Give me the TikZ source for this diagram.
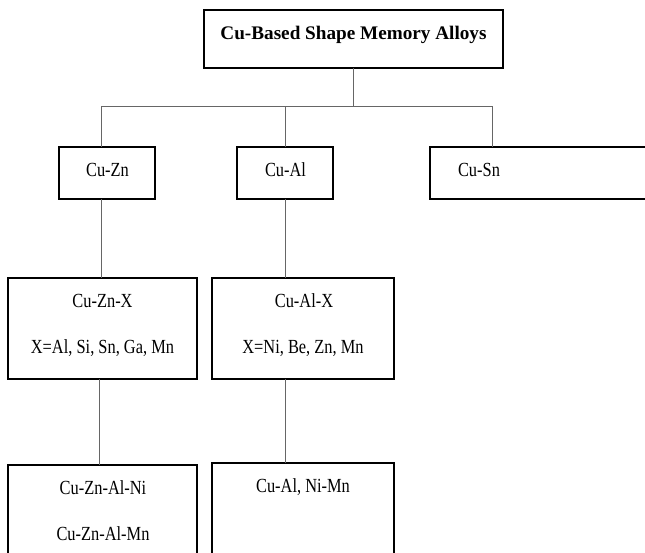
\documentclass[tikz,border=0pt]{standalone}
\usepackage{fontspec}
\setmainfont{Liberation Serif}
\newfontfamily\condfont[FakeStretch=0.82]{Liberation Serif}
\begin{document}
\begin{tikzpicture}[x=1pt,y=-1pt,
  box/.style={draw=black, line width=1.6pt, inner sep=0pt, outer sep=0pt, anchor=north west},
  conn/.style={draw=black!60, line width=0.9pt},
  lbl/.style={font=\condfont\fontsize{20}{22}\selectfont, inner sep=0pt, anchor=base},
  toplbl/.style={font=\bfseries\fontsize{19.2}{22}\selectfont, inner sep=0pt, anchor=base}]
\clip (0,0) rectangle (645,552);
\fill[white] (0,0) rectangle (645,552);
% boxes
\node[box, minimum width=299pt, minimum height=58pt] (top) at (204,10) {};
\node[box, minimum width=96pt, minimum height=52pt] (zn) at (59,147) {};
\node[box, minimum width=96pt, minimum height=52pt] (al) at (237,147) {};
\node[box, minimum width=260pt, minimum height=52pt] (sn) at (430,147) {};
\node[box, minimum width=189pt, minimum height=101pt] (znx) at (8,278) {};
\node[box, minimum width=182pt, minimum height=101pt] (alx) at (212,278) {};
\node[box, minimum width=189pt, minimum height=110pt] (znb) at (8,465) {};
\node[box, minimum width=182pt, minimum height=110pt] (alb) at (212,463) {};
% labels
\node[toplbl] (ttop) at (353.5,39) {Cu-Based Shape Memory Alloys};
\node[lbl] (tzn) at (107.5,176) {Cu-Zn};
\node[lbl] (tal) at (285.5,176) {Cu-Al};
\node[lbl] (tsn) at (479,176) {Cu-Sn};
\node[lbl] (tznx1) at (102.5,307) {Cu-Zn-X};
\node[lbl] (tznx2) at (102.5,353) {X=Al, Si, Sn, Ga, Mn};
\node[lbl] (talx1) at (304,307) {Cu-Al-X};
\node[lbl] (talx2) at (303,353) {X=Ni, Be, Zn, Mn};
\node[lbl] (tznb1) at (103,494) {Cu-Zn-Al-Ni};
\node[lbl] (tznb2) at (103,540) {Cu-Zn-Al-Mn};
\node[lbl] (talb1) at (303,492) {Cu-Al, Ni-Mn};
% connectors
\coordinate (bus) at (top.south |- 0,106);
\coordinate (snc) at (492,147);
\draw[conn] (top.south) -- (bus);
\draw[conn] ([xshift=-6pt]zn.north) |- (bus);
\draw[conn] (snc) |- (bus);
\draw[conn] (al.north) -- (al.north |- bus);
\draw[conn] ([xshift=-6pt]zn.south) -- ([xshift=-6pt]zn.south |- znx.north);
\draw[conn] (al.south) -- (al.south |- alx.north);
\draw[conn] ([xshift=-3.5pt]znx.south) -- ([xshift=-3.5pt]znx.south |- znb.north);
\draw[conn] (alx.south -| al.south) -- (al.south |- alb.north);
\end{tikzpicture}
\end{document}
